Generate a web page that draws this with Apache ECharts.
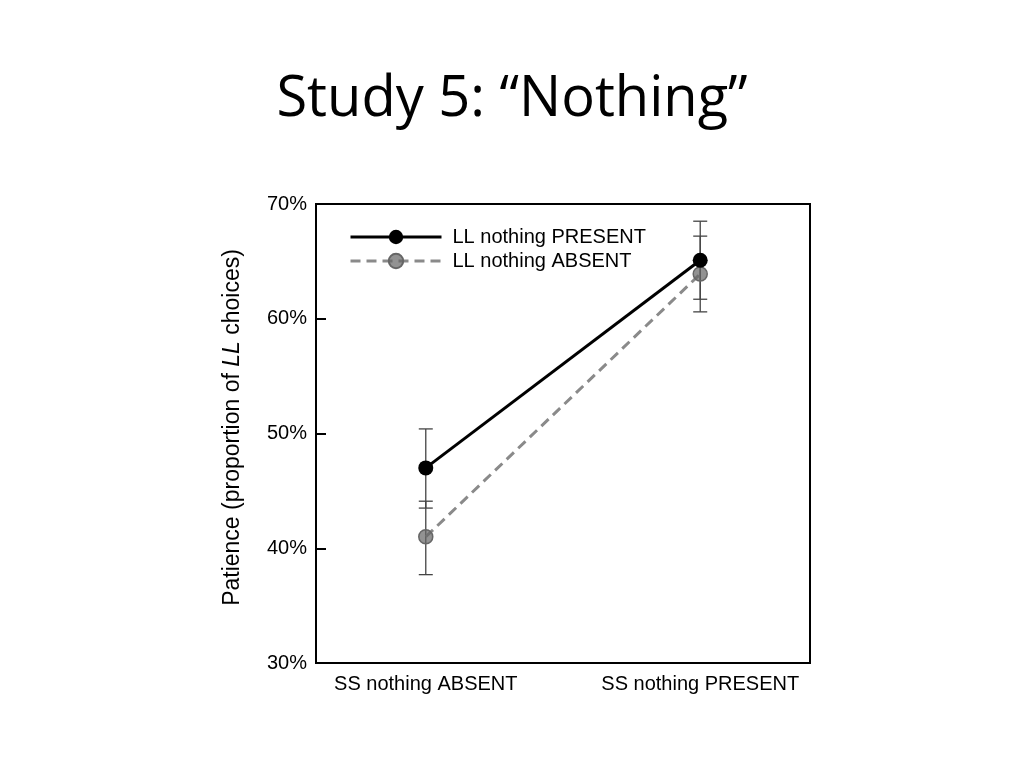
<!DOCTYPE html>
<html>
<head>
<meta charset="utf-8">
<script src="https://cdn.jsdelivr.net/npm/echarts@6/dist/echarts.min.js"></script>
<style>
html, body { margin: 0; padding: 0; background: #fff; }
#chart { width: 1024px; height: 768px; }
</style>
</head>
<body>
<div id="chart"></div>
<script>
// conditions on x axis
var categories = ['SS nothing ABSENT', 'SS nothing PRESENT'];
var seriesNames = ['LL nothing PRESENT', 'LL nothing ABSENT'];
// % choosing LL
var presentMean = [47.0, 65.1];
var presentLow = [43.5, 61.7];
var presentHigh = [50.4, 68.5];
var absentMean = [41.0, 63.9];
var absentLow = [37.7, 60.6];
var absentHigh = [44.1, 67.2];
var yTicks = [30, 40, 50, 60, 70];

function pairs(vals) {
    var out = [];
    for (var i = 0; i < vals.length; i++) {
        out.push([i, vals[i]]);
    }
    return out;
}

function errData(low, high) {
    var out = [];
    for (var i = 0; i < low.length; i++) {
        out.push([i, low[i], high[i]]);
    }
    return out;
}

function renderErr(params, api) {
    var x = api.value(0);
    var lo = api.coord([x, api.value(1)]);
    var hi = api.coord([x, api.value(2)]);
    var half = 7;
    var style = { stroke: '#444', lineWidth: 1.3 };
    return {
        type: 'group',
        children: [
            { type: 'line', shape: { x1: lo[0], y1: lo[1], x2: hi[0], y2: hi[1] }, style: style },
            { type: 'line', shape: { x1: lo[0] - half, y1: lo[1], x2: lo[0] + half, y2: lo[1] }, style: style },
            { type: 'line', shape: { x1: hi[0] - half, y1: hi[1], x2: hi[0] + half, y2: hi[1] }, style: style }
        ]
    };
}

var chart = echarts.init(document.getElementById('chart'));

var option = {
    backgroundColor: '#fff',
    animation: false,
    title: {
        text: 'Study 5: \u201cNothing\u201d',
        left: 'center',
        top: 67,
        textStyle: {
            fontFamily: 'Open Sans',
            fontWeight: 'normal',
            fontSize: 56,
            color: '#000'
        }
    },
    legend: {
        orient: 'vertical',
        left: 349,
        top: 227,
        padding: 0,
        itemWidth: 91,
        itemHeight: 18,
        itemGap: 4,
        data: [
            { name: seriesNames[0], lineStyle: { width: 3 } },
            { name: seriesNames[1], lineStyle: { width: 3 } }
        ],
        textStyle: {
            fontFamily: 'Liberation Sans',
            fontSize: 20,
            color: '#000',
            padding: [0, 0, 0, 6]
        }
    },
    grid: {
        left: 316,
        right: 214,
        top: 204,
        bottom: 105,
        show: true,
        borderColor: '#000',
        borderWidth: 2,
        containLabel: false
    },
    xAxis: {
        type: 'value',
        min: -0.4,
        max: 1.4,
        splitLine: { show: false },
        axisLine: { show: true, onZero: false, lineStyle: { color: '#000', width: 2 } },
        axisTick: { show: false },
        axisLabel: {
            customValues: [0, 1],
            formatter: function (v) { return categories[Math.round(v)]; },
            fontFamily: 'Liberation Sans',
            fontSize: 20,
            color: '#000',
            margin: 11
        }
    },
    yAxis: {
        type: 'value',
        min: yTicks[0],
        max: yTicks[yTicks.length - 1],
        interval: 10,
        name: 'Patience (proportion of {i|LL} choices)',
        nameLocation: 'middle',
        nameGap: 72,
        nameRotate: 90,
        nameTextStyle: {
            fontFamily: 'Liberation Sans',
            fontSize: 23,
            color: '#000',
            padding: [0, 0, 0, 12],
            rich: {
                i: { fontFamily: 'Liberation Sans', fontSize: 23, fontStyle: 'italic', color: '#000' }
            }
        },
        splitLine: { show: false },
        axisLine: { show: true, onZero: false, lineStyle: { color: '#000', width: 2 } },
        axisTick: { show: true, inside: true, length: 10, lineStyle: { color: '#000', width: 2 } },
        axisLabel: {
            formatter: '{value}%',
            fontFamily: 'Liberation Sans',
            fontSize: 20,
            color: '#000',
            margin: 9
        }
    },
    series: [
        {
            type: 'custom',
            name: 'errPresent',
            renderItem: renderErr,
            data: errData(presentLow, presentHigh),
            z: 1,
            silent: true
        },
        {
            type: 'custom',
            name: 'errAbsent',
            renderItem: renderErr,
            data: errData(absentLow, absentHigh),
            z: 1,
            silent: true
        },
        {
            name: seriesNames[1],
            type: 'line',
            data: pairs(absentMean),
            symbol: 'circle',
            symbolSize: 14,
            z: 3,
            lineStyle: { color: '#8a8a8a', width: 3, type: [10, 6] },
            itemStyle: { color: 'rgba(100,100,100,0.7)', borderColor: '#666', borderWidth: 1.5 }
        },
        {
            name: seriesNames[0],
            type: 'line',
            data: pairs(presentMean),
            symbol: 'circle',
            symbolSize: 15,
            z: 4,
            lineStyle: { color: '#000', width: 3 },
            itemStyle: { color: '#000' }
        }
    ]
};

chart.setOption(option);
</script>
</body>
</html>
